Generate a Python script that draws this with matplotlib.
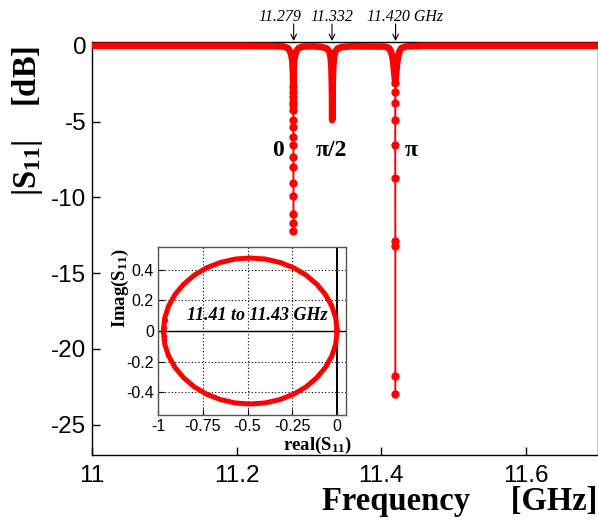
import matplotlib
matplotlib.use('Agg')
import matplotlib.pyplot as plt
import matplotlib.transforms as mtransforms

plt.rcParams['mathtext.fontset'] = 'custom'
plt.rcParams['mathtext.bf'] = 'Liberation Serif:bold'
plt.rcParams['mathtext.rm'] = 'Liberation Serif:bold'
plt.rcParams['mathtext.default'] = 'bf'
plt.rcParams['axes.unicode_minus'] = False

RED = '#ff0000'
SERIF = 'Liberation Serif'
SANS = 'Liberation Sans'

# densely sampled part of the sweep (baseline and upper part of the dips)
sweep_freq = [11.0, 11.1, 11.2, 11.25,
              11.265, 11.271, 11.2738, 11.2757, 11.2772, 11.2780, 11.2784,
              11.2788, 11.2796, 11.2811, 11.2830, 11.2858, 11.292, 11.305,
              11.318, 11.325, 11.3285, 11.3302, 11.3313, 11.3318, 11.3321, 11.3322, 11.3323,
              11.3325, 11.3327, 11.3330, 11.3336, 11.3346, 11.3364, 11.3398, 11.346, 11.36,
              11.405, 11.411, 11.4135, 11.4155, 11.4168, 11.4178, 11.4188, 11.4195,
              11.4202, 11.4212, 11.4222, 11.4235, 11.4255, 11.428, 11.434,
              11.46, 11.55, 11.7]
sweep_db = [0.0, 0.0, 0.0, -0.02,
            -0.05, -0.15, -0.35, -0.6, -1.0, -1.7, -2.7,
            -1.7, -1.0, -0.6, -0.35, -0.15, -0.05, -0.03,
            -0.08, -0.18, -0.4, -0.8, -1.5, -2.5, -3.6, -4.4, -4.9,
            -4.4, -3.6, -2.5, -1.5, -0.8, -0.4, -0.18, -0.08, -0.03,
            -0.05, -0.15, -0.35, -0.7, -1.1, -1.6, -2.1, -2.4,
            -2.1, -1.6, -1.1, -0.7, -0.35, -0.15, -0.05,
            0.0, 0.0, 0.0]

# sparse points at the bottom of the "0" mode
dip0_freq = [11.2783, 11.2784, 11.2784, 11.2785, 11.2785, 11.2785, 11.2786, 11.2786, 11.2786,
             11.2786, 11.2786, 11.2786, 11.2787, 11.2787, 11.2787, 11.2787, 11.2787]
dip0_db = [-2.74, -3.07, -3.4, -3.73, -3.93, -4.26, -4.9, -5.38, -6.04,
           -6.57, -7.36, -8.03, -9.08, -9.88, -11.07, -11.66, -12.25]

# sparse points at the bottom of the "pi" mode
dippi_freq = [11.4195, 11.4195, 11.4195, 11.4195, 11.4195, 11.4195, 11.4196, 11.4196, 11.4196, 11.4196]
dippi_db = [-2.48, -3.07, -3.8, -4.92, -6.57, -8.75, -12.85, -13.24, -21.76, -22.95]

mode_freq = [11.279, 11.332, 11.420]
mode_text = ['11.279', '11.332', '11.420 GHz']
phase_freq = [11.2579, 11.3310, 11.4414]
phase_db = [-6.9, -6.9, -6.9]
phase_text = ['0', 'π/2', 'π']

# inset: S11 in the complex plane, 11.41 to 11.43 GHz
s11_real = [0.0, -0.007, -0.029, -0.065, -0.114, -0.173, -0.243, -0.319, -0.401,
            -0.485, -0.569, -0.651, -0.728, -0.797, -0.856, -0.905, -0.941, -0.963,
            -0.970, -0.963, -0.941, -0.905, -0.856, -0.797, -0.728, -0.651, -0.569,
            -0.485, -0.401, -0.319, -0.243, -0.173, -0.114, -0.065, -0.029, -0.007, 0.0]
s11_imag = [0.0, 0.083, 0.163, 0.239, 0.307, 0.366, 0.414, 0.449, 0.471,
            0.478, 0.471, 0.449, 0.414, 0.366, 0.307, 0.239, 0.163, 0.083,
            0.0, -0.083, -0.163, -0.239, -0.307, -0.366, -0.414, -0.449, -0.471,
            -0.478, -0.471, -0.449, -0.414, -0.366, -0.307, -0.239, -0.163, -0.083, 0.0]
off_real = [-0.962, -0.966, -0.968, -0.965]
off_imag = [0.07, 0.02, -0.03, -0.06]

fig = plt.figure(figsize=(5.98, 5.22), dpi=100)
ax = fig.add_axes([92 / 598, 67 / 522, 506 / 598, 413 / 522])

ax.plot(sweep_freq, sweep_db, color=RED, lw=4.8, solid_capstyle='round',
        solid_joinstyle='round', zorder=3)
ax.plot(dip0_freq, dip0_db, 'o-', color=RED, lw=1.4, ms=5, zorder=3)
ax.plot(dippi_freq, dippi_db, 'o-', color=RED, lw=1.4, ms=5, zorder=3)

ax.set_xlim(11.0, 11.7)
ax.set_ylim(-27.0, 0.25)
ax.set_xticks([11.0, 11.2, 11.4, 11.6])
ax.set_xticklabels(['11', '11.2', '11.4', '11.6'])
ax.set_yticks([0, -5, -10, -15, -20, -25])
ax.tick_params(direction='in', length=6, width=1, top=False, right=False,
               labelsize=17.5)
ax.tick_params(axis='x', pad=7)
ax.tick_params(axis='y', pad=4)
for lab in ax.get_xticklabels() + ax.get_yticklabels():
    lab.set_fontfamily(SANS)
for sp in ax.spines.values():
    sp.set_linewidth(1.0)

for f, db, t in zip(phase_freq, phase_db, phase_text):
    ax.text(f, db, t, fontsize=17, fontfamily=SERIF, fontweight='bold',
            ha='center', va='center')

# mode frequencies with arrows above the plot
top = mtransforms.blended_transform_factory(ax.transData, fig.transFigure)
text_dx = [-0.019, 0.0, -0.040]
text_ha = ['center', 'center', 'left']
for f, t, dx, ha in zip(mode_freq, mode_text, text_dx, text_ha):
    ax.annotate('', xy=(f, 1 - 41 / 522), xycoords=top,
                xytext=(f, 1 - 24 / 522), textcoords=top,
                arrowprops=dict(arrowstyle='->', color='black', lw=0.8,
                                shrinkA=0, shrinkB=0), annotation_clip=False)
    ax.text(f + dx, 1 - 17 / 522, t, transform=top, fontsize=11.5,
            fontfamily=SERIF, fontstyle='italic', ha=ha, va='center')

fig.text(28 / 598, 1 - 121 / 522, '|S$_{11}$|    [dB]', rotation=90,
         fontsize=23.5, fontfamily=SERIF, fontweight='bold',
         ha='center', va='center')
fig.text(597 / 598, 12 / 522, 'Frequency     [GHz]', fontsize=23.5,
         fontfamily=SERIF, fontweight='bold', ha='right', va='baseline')

# inset
ins = fig.add_axes([158 / 598, 107 / 522, 188 / 598, 168 / 522])
ins.plot(s11_real, s11_imag, color=RED, lw=3.6, solid_joinstyle='round', zorder=3)
ins.plot(off_real, off_imag, 'o', color=RED, ms=3, zorder=3)
ins.set_xlim(-1.0, 0.05)
ins.set_ylim(-0.55, 0.55)
ins.set_xticks([-1, -0.75, -0.5, -0.25, 0])
ins.set_xticklabels(['-1', '-0.75', '-0.5', '-0.25', '0'])
ins.set_yticks([-0.4, -0.2, 0, 0.2, 0.4])
ins.set_yticklabels(['-0.4', '-0.2', '0', '0.2', '0.4'])
ins.grid(True, color='black', ls=(0, (1, 2)), lw=0.8)
ins.axhline(0, color='black', lw=1.0, zorder=2)
ins.axvline(0, color='black', lw=1.4, zorder=2)
ins.tick_params(direction='in', length=4, labelsize=11.5, pad=3)
for lab in ins.get_xticklabels() + ins.get_yticklabels():
    lab.set_fontfamily(SANS)
for sp in ins.spines.values():
    sp.set_color('#555555')
    sp.set_linewidth(1.0)
ins.text(-0.444, 0.104, '11.41 to 11.43 GHz', fontsize=13, fontfamily=SERIF,
         fontweight='bold', fontstyle='italic', ha='center', va='center', zorder=4)
fig.text(318 / 598, 1 - 445 / 522, 'real(S$_{11}$)', fontsize=13.5,
         fontfamily=SERIF, fontweight='bold', ha='center', va='center')
fig.text(120 / 598, 1 - 288 / 522, 'Imag(S$_{11}$)', fontsize=13.5,
         fontfamily=SERIF, fontweight='bold', rotation=90,
         ha='center', va='center')

fig.savefig('out.png', dpi=100)
